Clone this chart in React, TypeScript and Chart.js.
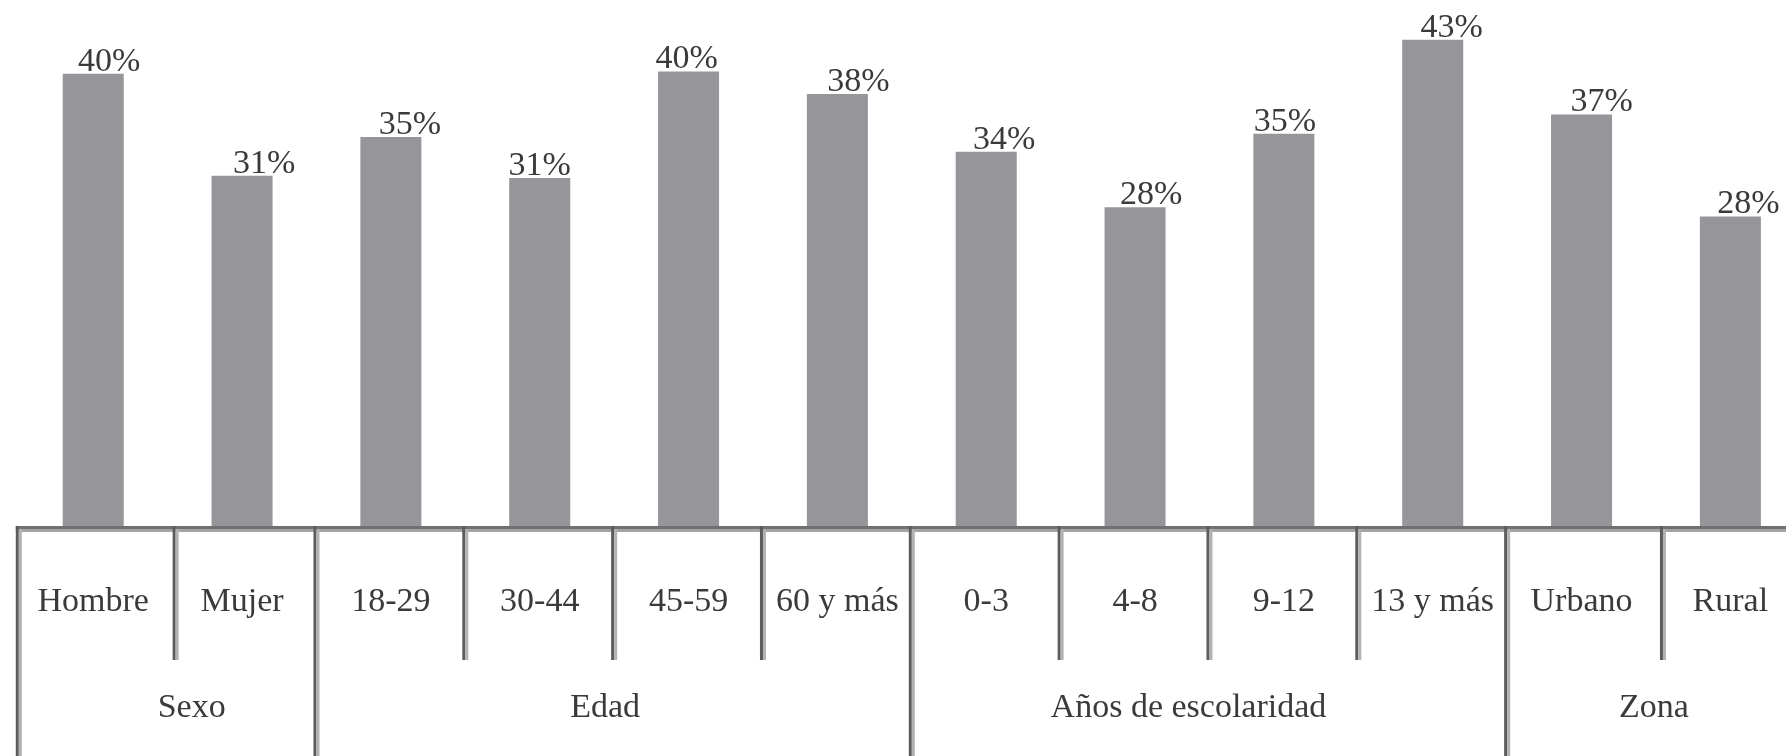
import React, { useEffect, useRef } from "react";
import { Chart, registerables } from "chart.js";

Chart.register(...registerables);

const categories = [
  "Hombre",
  "Mujer",
  "18-29",
  "30-44",
  "45-59",
  "60 y más",
  "0-3",
  "4-8",
  "9-12",
  "13 y más",
  "Urbano",
  "Rural",
];
const groups = ["Sexo", "Edad", "Años de escolaridad", "Zona"];
const groupSizes = [2, 4, 4, 2];
const values = [40.2, 31.2, 34.6, 31.0, 40.4, 38.4, 33.3, 28.4, 34.9, 43.2, 36.6, 27.6];
const valueLabels = ["40%", "31%", "35%", "31%", "40%", "38%", "34%", "28%", "35%", "43%", "37%", "28%"];

const FONT = '"Liberation Serif", "Times New Roman", serif';
const TEXT = "#3a3a3a";

const decorPlugin = {
  id: "decor",
  afterDatasetsDraw(chart: any, _args: any, opts: any) {
    const { ctx, chartArea } = chart;
    const xs = chart.scales.x;
    const H = chart.height;
    const bottom = chartArea.bottom;
    const dark = "#5c5c5c";
    const light = "#b2b2b2";
    ctx.save();
    // axis line
    ctx.fillStyle = "#707070";
    ctx.fillRect(chartArea.left - 3, bottom - 3, chartArea.right - chartArea.left + 6, 3);
    ctx.fillStyle = "#a4a4a4";
    ctx.fillRect(chartArea.left - 3, bottom, chartArea.right - chartArea.left + 6, 3);

    const vline = (b: number, yEnd: number) => {
      ctx.fillStyle = dark;
      ctx.fillRect(b - 3, bottom - 3, 3, yEnd - (bottom - 3));
      ctx.fillStyle = light;
      ctx.fillRect(b, bottom, 3, yEnd - bottom);
    };
    // left edge
    vline(chartArea.left, H);
    // category / group boundaries
    const groupEnds = new Set<number>();
    let acc = 0;
    groupSizes.forEach((n) => {
      acc += n;
      groupEnds.add(acc);
    });
    for (let i = 1; i < categories.length; i++) {
      const b = (xs.getPixelForValue(i - 1) + xs.getPixelForValue(i)) / 2;
      vline(b + (opts.dividerShift[i - 1] || 0), groupEnds.has(i) ? H : opts.shortEnd);
    }

    // value labels
    ctx.font = `34px ${FONT}`;
    ctx.fillStyle = TEXT;
    ctx.textAlign = "center";
    ctx.textBaseline = "alphabetic";
    const meta = chart.getDatasetMeta(0);
    meta.data.forEach((bar: any, i: number) => {
      ctx.fillText(valueLabels[i], bar.x + opts.labelShift[i], bar.y - 3);
    });

    // group labels
    let start = 0;
    groups.forEach((g, gi) => {
      const end = start + groupSizes[gi] - 1;
      const cx = (xs.getPixelForValue(start) + xs.getPixelForValue(end)) / 2;
      ctx.fillText(g, cx + opts.groupShift[gi], opts.groupBaseline);
      start = end + 1;
    });
    ctx.restore();
  },
};

export default function App() {
  const ref = useRef<HTMLCanvasElement | null>(null);

  useEffect(() => {
    if (!ref.current) return;
    const chart = new Chart(ref.current, {
      type: "bar",
      data: {
        labels: categories,
        datasets: [
          {
            data: values,
            backgroundColor: "#96969a",
            borderWidth: 0,
            categoryPercentage: 1,
            barPercentage: 0.41,
          },
        ],
      },
      options: {
        responsive: false,
        devicePixelRatio: 1,
        animation: false,
        layout: { padding: { left: 18.8, right: 1.2, top: 8, bottom: 0 } },
        plugins: {
          legend: { display: false },
          tooltip: { enabled: false },
          decor: {
            shortEnd: 660,
            groupBaseline: 717,
            labelShift: [16, 22, 19, 0, -2, 21, 18, 16, 1, 19, 20, 18],
            groupShift: [24, -9, -21, -2],
            dividerShift: [8, 0, 0, 0, 0, 0, 0, 0, 0, 0, 7],
          },
        } as any,
        scales: {
          x: {
            type: "category",
            offset: true,
            grid: { display: false, drawTicks: false },
            border: { display: false },
            ticks: {
              font: { family: FONT, size: 34, lineHeight: 1.2 },
              color: TEXT,
              padding: 53,
              maxRotation: 0,
              minRotation: 0,
              autoSkip: false,
            },
            afterFit: (s: any) => {
              s.height = 227;
              s.paddingLeft = 0;
              s.paddingRight = 0;
            },
          },
          y: { display: false, min: 0, max: 46 },
        },
      },
      plugins: [decorPlugin],
    });
    return () => chart.destroy();
  }, []);

  return (
    <div
      style={{
        position: "fixed",
        left: 0,
        top: 0,
        width: 1786,
        height: 756,
        overflow: "hidden",
        background: "#ffffff",
      }}
    >
      <canvas
        ref={ref}
        width={1806}
        height={756}
        style={{ display: "block", width: 1806, height: 756 }}
      />
    </div>
  );
}
